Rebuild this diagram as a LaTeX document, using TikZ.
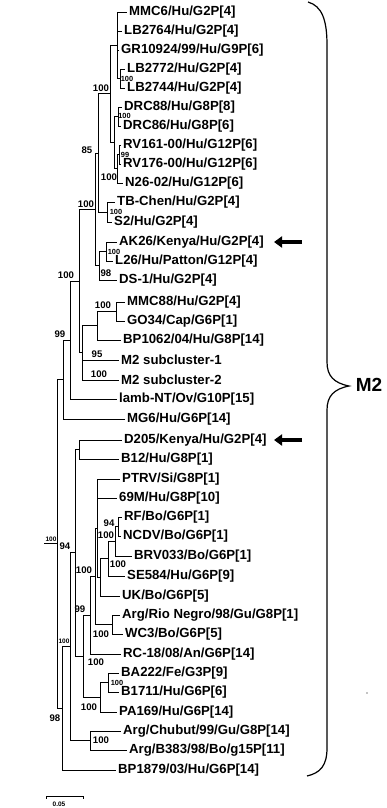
\documentclass[tikz,border=0pt]{standalone}
\usepackage{fontspec}
\setmainfont{Liberation Sans}
\usetikzlibrary{arrows.meta}
\newcommand\myleaffont{\fontsize{13.2}{14}\selectfont\bfseries}
\newcommand\mybsfont{\fontsize{9.6}{10}\selectfont\bfseries}
\newcommand\mysmallbsfont{\fontsize{7.4}{8}\selectfont\bfseries}
\newcommand\mytinyfont{\fontsize{6.5}{7}\selectfont\bfseries}
\begin{document}
\begin{tikzpicture}[x=1pt,y=-1pt,
  leaf/.style={anchor=west,inner xsep=2pt,inner ysep=0.3pt,font=\myleaffont},
  bs/.style={inner sep=0pt,font=\mybsfont},
  bssmall/.style={inner sep=0pt,font=\mysmallbsfont},
  bstiny/.style={inner sep=0pt,font=\mytinyfont},
  br/.style={line width=0.95pt},
  bigarrow/.style={line width=3.6pt,-{Triangle[length=8pt,width=11pt]}},
  brace/.style={line width=1.2pt}]
\useasboundingbox (0,0) rectangle (386,808);
% leaves
\node[leaf] (L1)  at (127,12)  {MMC6/Hu/G2P[4]};
\node[leaf] (L2)  at (122,31)  {LB2764/Hu/G2P[4]};
\node[leaf] (L3)  at (119,50)  {GR10924/99/Hu/G9P[6]};
\node[leaf] (L4)  at (125,69)  {LB2772/Hu/G2P[4]};
\node[leaf] (L5)  at (125,88)  {LB2744/Hu/G2P[4]};
\node[leaf] (L6)  at (122,107) {DRC88/Hu/G8P[8]};
\node[leaf] (L7)  at (121,126) {DRC86/Hu/G8P[6]};
\node[leaf] (L8)  at (121,145) {RV161-00/Hu/G12P[6]};
\node[leaf] (L9)  at (121,164) {RV176-00/Hu/G12P[6]};
\node[leaf] (L10) at (123,183) {N26-02/Hu/G12P[6]};
\node[leaf] (L11) at (115,202) {TB-Chen/Hu/G2P[4]};
\node[leaf] (L12) at (112,222) {S2/Hu/G2P[4]};
\node[leaf] (L13) at (117,242) {AK26/Kenya/Hu/G2P[4]};
\node[leaf] (L14) at (113,261) {L26/Hu/Patton/G12P[4]};
\node[leaf] (L15) at (117,280) {DS-1/Hu/G2P[4]};
\node[leaf] (L16) at (125,302) {MMC88/Hu/G2P[4]};
\node[leaf] (L17) at (125,321) {GO34/Cap/G6P[1]};
\node[leaf] (L18) at (121,340) {BP1062/04/Hu/G8P[14]};
\node[leaf] (L19) at (119,360) {M2 subcluster-1};
\node[leaf] (L20) at (119,380) {M2 subcluster-2};
\node[leaf] (L21) at (117,399) {lamb-NT/Ov/G10P[15]};
\node[leaf] (L22) at (125,419) {MG6/Hu/G6P[14]};
\node[leaf] (L23) at (122,440) {D205/Kenya/Hu/G2P[4]};
\node[leaf] (L24) at (119,459) {B12/Hu/G8P[1]};
\node[leaf] (L25) at (120,479) {PTRV/Si/G8P[1]};
\node[leaf] (L26) at (117,498) {69M/Hu/G8P[10]};
\node[leaf] (L27) at (122,517) {RF/Bo/G6P[1]};
\node[leaf] (L28) at (121,536) {NCDV/Bo/G6P[1]};
\node[leaf] (L29) at (132,556) {BRV033/Bo/G6P[1]};
\node[leaf] (L30) at (125,576) {SE584/Hu/G6P[9]};
\node[leaf] (L31) at (120,596) {UK/Bo/G6P[5]};
\node[leaf] (L32) at (120,615) {Arg/Rio Negro/98/Gu/G8P[1]};
\node[leaf] (L33) at (123,634) {WC3/Bo/G6P[5]};
\node[leaf] (L34) at (121,654) {RC-18/08/An/G6P[14]};
\node[leaf] (L35) at (119,673) {BA222/Fe/G3P[9]};
\node[leaf] (L36) at (119,692) {B1711/Hu/G6P[6]};
\node[leaf] (L37) at (117,712) {PA169/Hu/G6P[14]};
\node[leaf] (L38) at (121,731) {Arg/Chubut/99/Gu/G8P[14]};
\node[leaf] (L39) at (127,750) {Arg/B383/98/Bo/g15P[11]};
\node[leaf] (L40) at (116,770) {BP1879/03/Hu/G6P[14]};
% internal nodes
\coordinate (pLB)  at (120,78.5);
\coordinate (T)    at (117,45.25);
\coordinate (pDRC) at (118,116.5);
\coordinate (pRVp) at (119,154.5);
\coordinate (pRV)  at (117,168.75);
\coordinate (Lw)   at (114,142.6);
\coordinate (X)    at (110,93.9);
\coordinate (pTB)  at (107,212);
\coordinate (N97)  at (98,153);
\coordinate (pAK)  at (106,251.5);
\coordinate (pAKD) at (99,265.75);
\coordinate (N96)  at (95,209.4);
\coordinate (pMMC) at (116,311.5);
\coordinate (pBP)  at (97,325.75);
\coordinate (N82)  at (82,352.9);
\coordinate (N79)  at (79,281.1);
\coordinate (N70)  at (70,340);
\coordinate (N63)  at (63,379.5);
\coordinate (pD)   at (79,449.5);
\coordinate (pRF)  at (118,526.5);
\coordinate (N115) at (115,541.25);
\coordinate (N108) at (108,558.6);
\coordinate (N100) at (100,577.3);
\coordinate (A97)  at (97,528);
\coordinate (pRio) at (112,624.5);
\coordinate (B95)  at (95,576.3);
\coordinate (N90)  at (90,615.1);
\coordinate (pBA)  at (108,682.5);
\coordinate (pPA)  at (100,697.25);
\coordinate (N83)  at (83,656.2);
\coordinate (N75)  at (75,552.8);
\coordinate (pArg) at (90,740.5);
\coordinate (N70b) at (70,646.6);
\coordinate (N62)  at (62,708.3);
\coordinate (R)    at (57,543.9);
\coordinate (root) at (44,543.9);
% edges
\begin{scope}[br]
\draw (pLB) |- (L4.west);  \draw (pLB) |- (L5.west);
\draw (T) |- (L1.west); \draw (T) |- (L2.west); \draw (T) |- (L3.west); \draw (T) |- (pLB);
\draw (pDRC) |- (L6.west); \draw (pDRC) |- (L7.west);
\draw (pRVp) |- (L8.west); \draw (pRVp) |- (L9.west);
\draw (pRV) |- (pRVp); \draw (pRV) |- (L10.west);
\draw (Lw) |- (pDRC); \draw (Lw) |- (pRV);
\draw (X) |- (T); \draw (X) |- (Lw);
\draw (pTB) |- (L11.west); \draw (pTB) |- (L12.west);
\draw (N97) |- (X); \draw (N97) |- (pTB);
\draw (pAK) |- (L13.west); \draw (pAK) |- (L14.west);
\draw (pAKD) |- (pAK); \draw (pAKD) |- (L15.west);
\draw (N96) |- (N97); \draw (N96) |- (pAKD);
\draw (pMMC) |- (L16.west); \draw (pMMC) |- (L17.west);
\draw (pBP) |- (pMMC); \draw (pBP) |- (L18.west);
\draw (N82) |- (pBP); \draw (N82) |- (L19.west); \draw (N82) |- (L20.west);
\draw (N79) |- (N96); \draw (N79) |- (N82);
\draw (N70) |- (N79); \draw (N70) |- (L21.west);
\draw (N63) |- (N70); \draw (N63) |- (L22.west);
\draw (pD) |- (L23.west); \draw (pD) |- (L24.west);
\draw (pRF) |- (L27.west); \draw (pRF) |- (L28.west);
\draw (N115) |- (pRF); \draw (N115) |- (L29.west);
\draw (N108) |- (N115); \draw (N108) |- (L30.west);
\draw (N100) |- (N108); \draw (N100) |- (L31.west);
\draw (A97) |- (L25.west); \draw (A97) |- (L26.west); \draw (A97) |- (N100);
\draw (pRio) |- (L32.west); \draw (pRio) |- (L33.west);
\draw (B95) |- (A97); \draw (B95) |- (pRio);
\draw (N90) |- (B95); \draw (N90) |- (L34.west);
\draw (pBA) |- (L35.west); \draw (pBA) |- (L36.west);
\draw (pPA) |- (pBA); \draw (pPA) |- (L37.west);
\draw (N83) |- (N90); \draw (N83) |- (pPA);
\draw (N75) |- (pD); \draw (N75) |- (N83);
\draw (pArg) |- (L38.west); \draw (pArg) |- (L39.west);
\draw (N70b) |- (N75); \draw (N70b) |- (pArg);
\draw (N62) |- (N70b); \draw (N62) |- (L40.west);
\draw (R) |- (N63); \draw (R) |- (N62);
\draw (root) -- (R);
\end{scope}
% bootstrap values
\node[bs] (b1)  at (101,88)  {100};
\node[bssmall] (b2)  at (127,78.5) {100};
\node[bssmall] (b3)  at (124.5,116.3) {100};
\node[bs] (b4)  at (87,150)  {85};
\node[bssmall] (b5)  at (125,154.5) {99};
\node[bs] (b6)  at (109,177) {100};
\node[bs] (b7)  at (86,204)  {100};
\node[bssmall] (b8)  at (116,212) {100};
\node[bssmall] (b9)  at (114,251.5) {100};
\node[bs] (b10) at (106,273) {98};
\node[bs] (b11) at (66,275)  {100};
\node[bs] (b12) at (103,305) {100};
\node[bs] (b13) at (60,334)  {99};
\node[bs] (b14) at (97,354)  {95};
\node[bs] (b15) at (99,374)  {100};
\node[bstiny] (b16) at (51,539) {100};
\node[bs] (b17) at (65,546)  {94};
\node[bs] (b18) at (109,523) {94};
\node[bs] (b19) at (106,535) {100};
\node[bs] (b20) at (118,564) {100};
\node[bs] (b21) at (84,570)  {100};
\node[bs] (b22) at (80,609)  {99};
\node[bs] (b23) at (101,634) {100};
\node[bstiny] (b24) at (64,641) {100};
\node[bs] (b25) at (96,662)  {100};
\node[bssmall] (b26) at (117,682.5) {100};
\node[bs] (b27) at (89,707)  {100};
\node[bs] (b28) at (55,718)  {98};
\node[bs] (b29) at (101,740.5) {100};
% arrows
\coordinate (a1s) at (302,242); \coordinate (a1e) at (274,242);
\coordinate (a2s) at (302,440); \coordinate (a2e) at (274,440);
\draw[bigarrow] (a1s) -- (a1e);
\draw[bigarrow] (a2s) -- (a2e);
% brace
\draw[brace] (308,2) .. controls (322,6) and (327,20) .. (327,45) -- (327,362)
  .. controls (327,376) and (334,383) .. (349,386)
  .. controls (334,389) and (327,396) .. (327,410) -- (327,748)
  .. controls (327,766) and (320,773) .. (307,776);
\node[inner sep=0pt,font=\fontsize{19}{20}\selectfont\bfseries] (m2) at (369,385) {M2};
% scale bar
\coordinate (sb1) at (46,796); \coordinate (sb2) at (83,796);
\draw[line width=0.8pt] ([yshift=-2.5pt]sb1) -- (sb1) -- (sb2) -- ([yshift=-2.5pt]sb2);
\node[bstiny] (sbl) at (59,804) {0.05};
\fill (367,693) circle (0.7);
\end{tikzpicture}
\end{document}
